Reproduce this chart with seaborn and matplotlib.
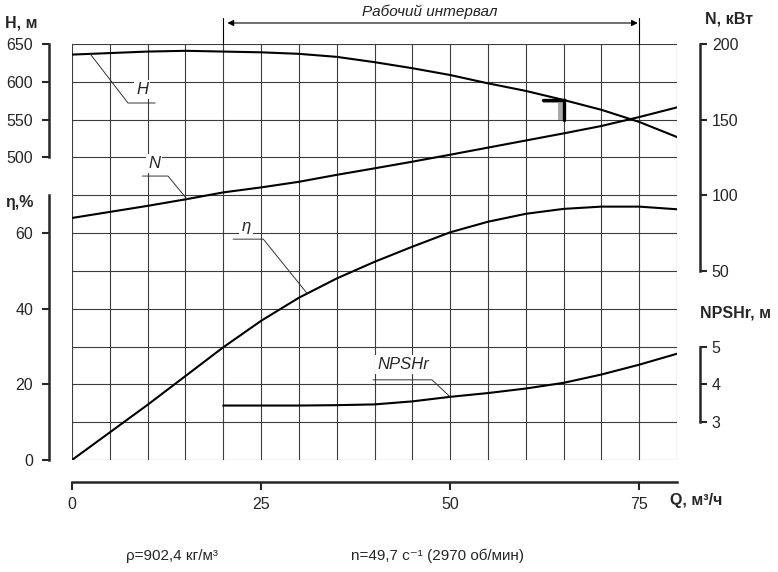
import matplotlib
matplotlib.use("Agg")
import matplotlib.pyplot as plt
import matplotlib.transforms as mtransforms
from matplotlib.ticker import MultipleLocator, FixedLocator
import numpy as np
import seaborn as sns

# pump curves
q = [0, 5, 10, 15, 20, 25, 30, 35, 40, 45, 50, 55, 60, 65, 70, 75, 80]
head = [636, 638, 640, 641, 640, 639, 637, 633, 626, 618, 609, 598, 588, 576, 563, 547, 527]
power = [85, 89, 93, 97.3, 101.9, 105.2, 108.9, 113.5, 117.8, 122.2, 126.8, 131.5, 136.2, 140.9, 145.8, 151.7, 158.1]
eff = [0, 7.3, 14.6, 22.2, 29.8, 36.8, 42.9, 48.0, 52.4, 56.4, 60.2, 63.0, 65.1, 66.4, 67.0, 67.0, 66.3]

q_npsh = [20, 25, 30, 35, 40, 45, 50, 55, 60, 65, 70, 75, 80]
npsh = [3.44, 3.44, 3.44, 3.45, 3.47, 3.55, 3.67, 3.77, 3.89, 4.04, 4.26, 4.52, 4.81]

q_ticks = [0, 25, 50, 75]
h_ticks = [500, 550, 600, 650]
eff_ticks = [0, 20, 40, 60]
n_ticks = [50, 100, 150, 200]
npsh_ticks = [3, 4, 5]

q_work = [20, 75]     # рабочий интервал
q_mark = 65           # номинальная точка

sns.set_style("white")
plt.rcParams['font.family'] = ['Liberation Sans', 'DejaVu Sans']

W, Hh = 778, 572
fig = plt.figure(figsize=(W / 100, Hh / 100), dpi=100)
ax = fig.add_axes([72 / W, 112 / Hh, 605 / W, 416 / Hh])
axH = ax.twinx()
axN = ax.twinx()
axP = ax.twinx()

line_kw = dict(color='black', lw=1.5, legend=False)
sns.lineplot(x=q, y=eff, ax=ax, **line_kw)
sns.lineplot(x=q, y=head, ax=axH, **line_kw)
sns.lineplot(x=q, y=power, ax=axN, **line_kw)
sns.lineplot(x=q_npsh, y=npsh, ax=axP, **line_kw)

ax.set_xlim(0, 80)
ax.set_ylim(0, 110)
axH.set_ylim(100, 650)
axN.set_ylim(-75, 200)
axP.set_ylim(2, 13)

# grid
ax.xaxis.set_minor_locator(MultipleLocator(5))
ax.yaxis.set_minor_locator(MultipleLocator(10))
ax.grid(which='both', color='#3c3c3c', lw=0.8)
ax.set_axisbelow(True)

off = 23 * 72 / 100
spine_lw = 1.8
for a in (ax, axH, axN, axP):
    for s in a.spines.values():
        s.set_visible(False)
    a.set_xlabel('')
    a.set_ylabel('')

ax.spines['bottom'].set_visible(True)
ax.spines['bottom'].set_position(('outward', 22 * 72 / 100))
ax.spines['bottom'].set_bounds(0, 80)
ax.spines['bottom'].set_linewidth(spine_lw)
ax.xaxis.set_major_locator(FixedLocator(q_ticks))
ax.tick_params(axis='x', which='major', direction='out', length=6, width=1.5,
               labelsize=11.5, pad=5, bottom=True)
ax.tick_params(axis='both', which='minor', length=0)

axH.yaxis.tick_left()
for a, side, ticks in [(ax, 'left', eff_ticks), (axH, 'left', h_ticks),
                       (axN, 'right', n_ticks), (axP, 'right', npsh_ticks)]:
    sp = a.spines[side]
    sp.set_visible(True)
    sp.set_position(('outward', off))
    sp.set_bounds(ticks[0], ticks[-1] if a is not ax else 70)
    sp.set_linewidth(spine_lw)
    a.yaxis.set_major_locator(FixedLocator(ticks))
    a.tick_params(axis='y', which='major', direction='out', length=5, width=1.5,
                  labelsize=11.5, pad=6.5 if side == 'left' else 3.5,
                  left=(side == 'left'), right=(side == 'right'),
                  labelleft=(side == 'left'), labelright=(side == 'right'))
    a.tick_params(axis='y', which='minor', length=0)

# curve labels with leader lines
lead = dict(color='#333333', lw=0.7)
lab = dict(style='italic', fontsize=12, ha='center', va='center',
           bbox=dict(fc='white', ec='none', pad=1.5))

axH.plot([2.4, 7.4, 11], [np.interp(2.4, q, head), 572, 572], **lead)
axH.text(9.3, 590, 'H', **lab)

axN.plot([9.3, 12.7, 15.2], [112.7, 112.7, np.interp(15.2, q, power)], **lead)
axN.text(10.9, 121, 'N', **lab)

ax.plot([21.3, 25.3, 31.1], [58.4, 58.4, np.interp(31.1, q, eff)], **lead)
ax.text(23.0, 61.8, 'η', **lab)

axP.plot([39.8, 47.6, 50], [4.12, 4.12, np.interp(50, q_npsh, npsh)], **lead)
axP.text(43.8, 4.52, 'NPSHr', **lab)

# номинальная точка
h_m = np.interp(q_mark, q, head)
axH.fill([q_mark - 2.7, q_mark, q_mark, q_mark - 0.7, q_mark - 0.7, q_mark - 2.7],
         [h_m, h_m, h_m - 27, h_m - 27, h_m - 4.5, h_m - 4.5],
         color='#aaaaaa', lw=0, zorder=3)
axH.plot([q_mark - 2.7, q_mark, q_mark], [h_m, h_m, h_m - 27], color='black', lw=2.4,
         solid_joinstyle='miter', zorder=4)

# рабочий интервал
trans = mtransforms.blended_transform_factory(ax.transData, ax.transAxes)
for qw in q_work:
    ax.plot([qw, qw], [1.0, 1.0625], transform=trans, color='black', lw=0.8, clip_on=False)
ax.annotate('', xy=(q_work[0], 1.0505), xytext=(q_work[1], 1.0505),
            xycoords=trans, textcoords=trans,
            arrowprops=dict(arrowstyle='<|-|>', color='black', lw=0.8,
                            mutation_scale=9, shrinkA=1, shrinkB=3))
ax.text(np.mean(q_work) - 0.2, 1.078, 'Рабочий интервал', transform=trans,
        style='italic', fontsize=11, ha='center', va='center', color='#222222')

# axis titles
tkw = dict(fontsize=11.5, fontweight='bold', va='center', ha='left')
fig.text(5 / W, 1 - 23 / Hh, 'H, м', **tkw)
fig.text(5 / W, 1 - 203 / Hh, 'η,%', **tkw)
fig.text(705 / W, 1 - 19 / Hh, 'N, кВт', **tkw)
fig.text(700 / W, 1 - 313 / Hh, 'NPSHr, м', **tkw)
fig.text(670 / W, 1 - 501 / Hh, 'Q, м³/ч', **tkw)

fig.text(172 / W, 1 - 556 / Hh, 'ρ=902,4 кг/м³', fontsize=11, ha='center', va='center')
fig.text(437 / W, 1 - 556 / Hh, 'n=49,7 с⁻¹ (2970 об/мин)', fontsize=11,
         ha='center', va='center')

fig.savefig('out.png', dpi=100)
